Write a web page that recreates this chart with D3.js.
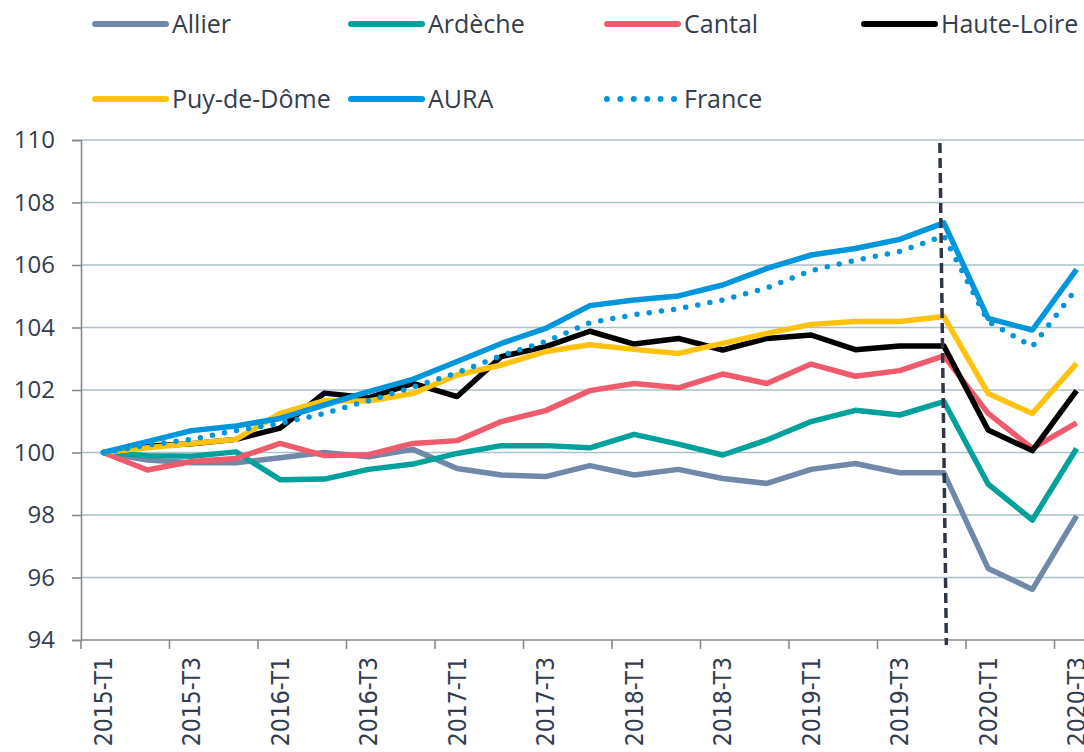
<!DOCTYPE html>
<html>
<head>
<meta charset="utf-8">
<script src="https://cdn.jsdelivr.net/npm/d3@7"></script>
<style>
  body { margin: 0; background: #fff; }
  svg { display: block; }
</style>
</head>
<body>
<svg id="chart"></svg>
<script>
// quarters (categories)
var quarters = ["2015-T1","2015-T2","2015-T3","2015-T4","2016-T1","2016-T2","2016-T3","2016-T4",
  "2017-T1","2017-T2","2017-T3","2017-T4","2018-T1","2018-T2","2018-T3","2018-T4",
  "2019-T1","2019-T2","2019-T3","2019-T4","2020-T1","2020-T2","2020-T3"];

// series values (base 100 = 2015-T1)
var allier     = [100, 99.76, 99.67, 99.67, 99.83, 100.0, 99.86, 100.1, 99.49, 99.28, 99.23, 99.58, 99.28, 99.46, 99.17, 99.01, 99.46, 99.65, 99.35, 99.35, 96.29, 95.62, 97.97];
var ardeche    = [100, 99.9, 99.88, 100.02, 99.13, 99.15, 99.46, 99.63, 99.97, 100.22, 100.22, 100.15, 100.58, 100.27, 99.92, 100.4, 100.99, 101.35, 101.2, 101.63, 98.99, 97.84, 100.13];
var cantal     = [100, 99.44, 99.71, 99.81, 100.29, 99.9, 99.93, 100.29, 100.38, 100.99, 101.34, 101.98, 102.21, 102.07, 102.51, 102.21, 102.83, 102.44, 102.62, 103.09, 101.25, 100.13, 100.95];
var hauteLoire = [100, 100.2, 100.28, 100.42, 100.78, 101.9, 101.75, 102.21, 101.79, 103.07, 103.39, 103.88, 103.47, 103.65, 103.28, 103.65, 103.76, 103.29, 103.41, 103.41, 100.72, 100.06, 101.98];
var puyDeDome  = [100, 100.15, 100.29, 100.42, 101.25, 101.66, 101.65, 101.89, 102.48, 102.8, 103.23, 103.45, 103.3, 103.17, 103.49, 103.81, 104.1, 104.19, 104.19, 104.35, 101.89, 101.25, 102.85];
var aura       = [100, 100.35, 100.7, 100.85, 101.09, 101.52, 101.95, 102.34, 102.91, 103.49, 103.97, 104.7, 104.88, 105.01, 105.36, 105.89, 106.32, 106.53, 106.82, 107.35, 104.29, 103.92, 105.86];
var france     = [100, 100.24, 100.42, 100.7, 100.93, 101.25, 101.66, 102.09, 102.55, 103.1, 103.55, 104.15, 104.41, 104.6, 104.88, 105.27, 105.82, 106.15, 106.43, 106.93, 104.19, 103.39, 105.25];

var seriesNames  = ["Allier","Ardèche","Cantal","Haute-Loire","Puy-de-Dôme","AURA","France"];
var seriesColors = ["#7189a8","#00a19a","#ef5b6c","#000000","#ffc20e","#0096db","#0096db"];
var seriesValues = [allier, ardeche, cantal, hauteLoire, puyDeDome, aura, france];

var yTicks = [94, 96, 98, 100, 102, 104, 106, 108, 110];
var xLabelTicks = quarters.filter(function(d, i){ return i % 2 == 0; });
var breakQuarter = "2019-T4";

var width = 1084, height = 752;
var plotLeft = 81, plotTop = 140, plotBottom = 640;
var band = 44.25;

var textColor = "#333d4f";

var svg = d3.select("#chart")
  .attr("width", width)
  .attr("height", height);

var x = d3.scaleBand()
  .domain(quarters)
  .range([plotLeft, plotLeft + band * quarters.length]);

var y = d3.scaleLinear()
  .domain([94, 110])
  .range([plotBottom, plotTop]);

function cx(q){ return x(q) + x.bandwidth() / 2; }

//gridlines
svg.append("g")
  .selectAll("line")
  .data(yTicks.filter(function(d){ return d != 94; }))
  .enter()
  .append("line")
  .attr("x1", plotLeft)
  .attr("x2", width)
  .attr("y1", function(d){ return y(d); })
  .attr("y2", function(d){ return y(d); })
  .style("stroke", "#a9c3c8")
  .style("stroke-width", "1.6px");

//y axis
var yAxis = svg.append("g")
  .attr("transform", "translate(" + plotLeft + ",0)")
  .call(d3.axisLeft(y).tickValues(yTicks).tickSize(9).tickPadding(17));
yAxis.select(".domain").style("stroke", "#8a8a8a").style("stroke-width", "1.6px");
yAxis.selectAll(".tick line").style("stroke", "#8a8a8a").style("stroke-width", "1.6px");
yAxis.selectAll("text")
  .style("font", "24px 'Open Sans'")
  .style("fill", textColor);

//x axis: ticks every 2 quarters on band boundaries
var xAxisG = svg.append("g")
  .attr("transform", "translate(0," + plotBottom + ")");
xAxisG.append("line")
  .attr("x1", plotLeft)
  .attr("x2", width)
  .style("stroke", "#8a8a8a")
  .style("stroke-width", "1.6px");
xAxisG.selectAll("line.tick")
  .data(xLabelTicks)
  .enter()
  .append("line")
  .attr("class", "tick")
  .attr("x1", function(d){ return x(d); })
  .attr("x2", function(d){ return x(d); })
  .attr("y1", 0)
  .attr("y2", 9)
  .style("stroke", "#8a8a8a")
  .style("stroke-width", "1.6px");
xAxisG.selectAll("text")
  .data(xLabelTicks)
  .enter()
  .append("text")
  .attr("transform", function(d){ return "translate(" + cx(d) + ",17) rotate(-90)"; })
  .attr("dy", "0.35em")
  .attr("text-anchor", "end")
  .style("font", "24.5px 'Liberation Sans Narrow', 'DejaVu Sans Condensed', sans-serif")
  .style("fill", textColor)
  .text(function(d){ return d; });

//series lines
var line = d3.line()
  .x(function(d, i){ return cx(quarters[i]); })
  .y(function(d){ return y(d); });

seriesValues.forEach(function(vals, k){
  var p = svg.append("path")
    .datum(vals)
    .attr("d", line)
    .style("fill", "none")
    .style("stroke", seriesColors[k])
    .style("stroke-width", "5.5px")
    .style("stroke-linejoin", "round");
  if (seriesNames[k] == "France") {
    p.style("stroke-dasharray", "0,12.3").style("stroke-linecap", "round");
  }
});

//dashed break line (slightly slanted, as in the source)
svg.append("line")
  .attr("x1", cx(breakQuarter) - 4)
  .attr("x2", cx(breakQuarter) + 2.5)
  .attr("y1", y(110) + 3)
  .attr("y2", y(94) + 5)
  .style("stroke", "#2f3646")
  .style("stroke-width", "3.5px")
  .style("stroke-dasharray", "10,5");

//legend
var legendX = [95, 351, 607, 864];
var legendY = [24, 99];
var legend = svg.append("g")
  .selectAll("g")
  .data(seriesNames)
  .enter()
  .append("g")
  .attr("transform", function(d, i){
    return "translate(" + legendX[i % 4] + "," + legendY[Math.floor(i / 4)] + ")";
  });

legend.append("line")
  .attr("x1", 0)
  .attr("x2", 71)
  .style("stroke", function(d, i){ return seriesColors[i]; })
  .style("stroke-width", "6px")
  .style("stroke-linecap", "round")
  .style("stroke-dasharray", function(d){ return d == "France" ? "0,13.4" : null; });

legend.append("text")
  .attr("x", 77)
  .attr("dy", "0.36em")
  .style("font", "25px 'Open Sans'")
  .style("fill", textColor)
  .text(function(d){ return d; });
</script>
</body>
</html>
